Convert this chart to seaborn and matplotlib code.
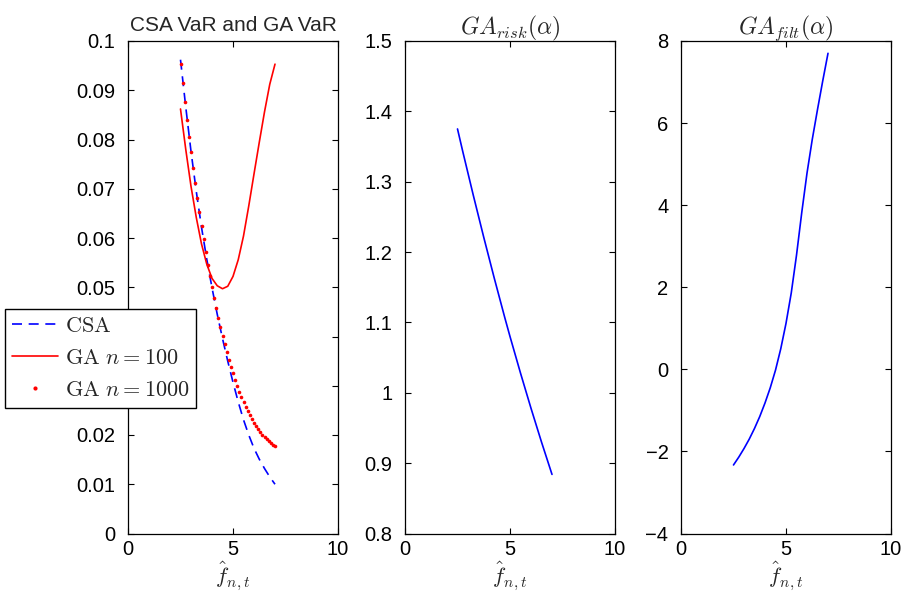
import numpy as np
import pandas as pd
import matplotlib
matplotlib.use("Agg")
import matplotlib.pyplot as plt
from matplotlib.ticker import FuncFormatter, FixedLocator
import seaborn as sns

# ---------------- data ----------------
x_grid = [2.5, 2.75, 3.0, 3.25, 3.5, 3.75, 4.0, 4.25, 4.5, 4.75,
          5.0, 5.25, 5.5, 5.75, 6.0, 6.25, 6.5, 6.75, 7.0]

csa_var = [0.0962, 0.0866, 0.0776, 0.0695, 0.0622, 0.0557, 0.0499, 0.0445,
           0.0396, 0.0350, 0.0307, 0.0267, 0.0231, 0.0200, 0.0173, 0.0151,
           0.0132, 0.0115, 0.0100]

ga_var_100 = [0.0862, 0.0780, 0.0705, 0.0642, 0.0588, 0.0547, 0.0518, 0.0503,
              0.0497, 0.0502, 0.0522, 0.0556, 0.0604, 0.0665, 0.0730, 0.0794,
              0.0856, 0.0912, 0.0953]

x_dots = [2.5, 2.6, 2.7, 2.8, 2.9, 3.0, 3.1, 3.2, 3.3, 3.4, 3.5, 3.6, 3.7,
          3.8, 3.9, 4.0, 4.1, 4.2, 4.3, 4.4, 4.5, 4.6, 4.7, 4.8, 4.9, 5.0,
          5.1, 5.2, 5.3, 5.4, 5.5, 5.6, 5.7, 5.8, 5.9, 6.0, 6.1, 6.2, 6.3,
          6.4, 6.5, 6.6, 6.7, 6.8, 6.9, 7.0]

ga_var_1000 = [0.0954, 0.0914, 0.0876, 0.0840, 0.0806, 0.0774, 0.0742, 0.0711,
               0.0681, 0.0652, 0.0624, 0.0597, 0.0571, 0.0546, 0.0523, 0.0500,
               0.0478, 0.0457, 0.0438, 0.0419, 0.0401, 0.0384, 0.0368, 0.0353,
               0.0338, 0.0325, 0.0312, 0.0300, 0.0288, 0.0277, 0.0267, 0.0257,
               0.0248, 0.0240, 0.0232, 0.0225, 0.0218, 0.0212, 0.0206, 0.0201,
               0.0196, 0.0192, 0.0188, 0.0184, 0.0180, 0.0177]

ga_risk = [1.375, 1.343, 1.312, 1.281, 1.251, 1.221, 1.192, 1.163, 1.135,
           1.107, 1.080, 1.054, 1.028, 1.003, 0.978, 0.954, 0.930, 0.907, 0.884]

ga_filt = [-2.33, -2.14, -1.93, -1.70, -1.44, -1.15, -0.82, -0.45, -0.02,
           0.50, 1.12, 1.86, 2.78, 3.82, 4.78, 5.60, 6.33, 7.03, 7.70]

titles = ["CSA VaR and GA VaR", r"$GA_{risk}(\alpha)$", r"$GA_{filt}(\alpha)$"]
legend_labels = [r"$\mathrm{CSA}$", r"$\mathrm{GA}\ n = 100$", r"$\mathrm{GA}\ n = 1000$"]
xlabel = r"$\hat{f}_{n,t}$"
x_ticks = [0, 5, 10]
y_ticks_1 = [0, 0.01, 0.02, 0.03, 0.04, 0.05, 0.06, 0.07, 0.08, 0.09, 0.1]
y_ticks_2 = [0.8, 0.9, 1.0, 1.1, 1.2, 1.3, 1.4, 1.5]
y_ticks_3 = [-4, -2, 0, 2, 4, 6, 8]

# ---------------- style ----------------
sns.set_theme(style="ticks")
plt.rcParams["font.family"] = ["Liberation Sans", "DejaVu Sans"]
plt.rcParams["mathtext.fontset"] = "cm"
plt.rcParams["axes.linewidth"] = 0.9
plt.rcParams["axes.edgecolor"] = "black"

fig = plt.figure(figsize=(9.04, 5.91), dpi=100)
W, H = 904.0, 591.0
bottom = 1 - 533.5 / H
height = (533.5 - 41.0) / H
width = 210.0 / W
ax1 = fig.add_axes([128.0 / W, bottom, width, height])
ax2 = fig.add_axes([405.0 / W, bottom, width, height])
ax3 = fig.add_axes([681.0 / W, bottom, width, height])

df_line = pd.DataFrame({"x": x_grid, "csa": csa_var, "ga100": ga_var_100,
                        "risk": ga_risk, "filt": ga_filt})
df_dots = pd.DataFrame({"x": x_dots, "ga1000": ga_var_1000})

blue = "#0000ff"
red = "#ff0000"

sns.lineplot(data=df_line, x="x", y="csa", ax=ax1, color=blue, linewidth=1.2,
             label=legend_labels[0])
ax1.lines[-1].set_dashes([6, 4])
sns.lineplot(data=df_line, x="x", y="ga100", ax=ax1, color=red, linewidth=1.2,
             label=legend_labels[1])
sns.lineplot(data=df_dots, x="x", y="ga1000", ax=ax1, color=red, linestyle="",
             marker="o", markersize=2.6, markeredgewidth=0,
             label=legend_labels[2])

sns.lineplot(data=df_line, x="x", y="risk", ax=ax2, color=blue, linewidth=1.2)
sns.lineplot(data=df_line, x="x", y="filt", ax=ax3, color=blue, linewidth=1.2)

fmt = FuncFormatter(lambda v, p: ("%g" % v).replace("-", "\u2212"))
for ax, yt, title in zip([ax1, ax2, ax3], [y_ticks_1, y_ticks_2, y_ticks_3], titles):
    ax.set_xlim(0, 10)
    ax.set_ylim(yt[0], yt[-1])
    ax.xaxis.set_major_locator(FixedLocator(x_ticks))
    ax.yaxis.set_major_locator(FixedLocator(yt))
    ax.yaxis.set_major_formatter(fmt)
    ax.xaxis.set_major_formatter(fmt)
    ax.tick_params(direction="in", length=4, width=0.8, top=True, right=True,
                   labelsize=14.5, colors="black")
    ax.tick_params(axis="y", pad=9)
    ax.tick_params(axis="x", pad=5)
    for s in ax.spines.values():
        s.set_visible(True)
        s.set_color("black")
    ax.set_xlabel(xlabel, fontsize=16, labelpad=0)
    ax.set_ylabel("")
    if title.startswith("$"):
        ax.set_title(title, fontsize=17, pad=5)
    else:
        ax.set_title(title, fontsize=15, pad=7)
    ax.grid(False)

leg = ax1.legend(loc="upper left", bbox_to_anchor=(5.0 / W, 1 - 309.0 / H),
                 bbox_transform=fig.transFigure, fontsize=16, frameon=True,
                 fancybox=False, edgecolor="black", framealpha=1,
                 handlelength=2.1, borderpad=0.3, labelspacing=0.5,
                 handletextpad=0.3, borderaxespad=0)
leg.get_frame().set_linewidth(1.0)
for h in leg.legend_handles:
    if h.get_marker() not in (None, "None", ""):
        h.set_markersize(3)

fig.savefig("out.png", dpi=100)
